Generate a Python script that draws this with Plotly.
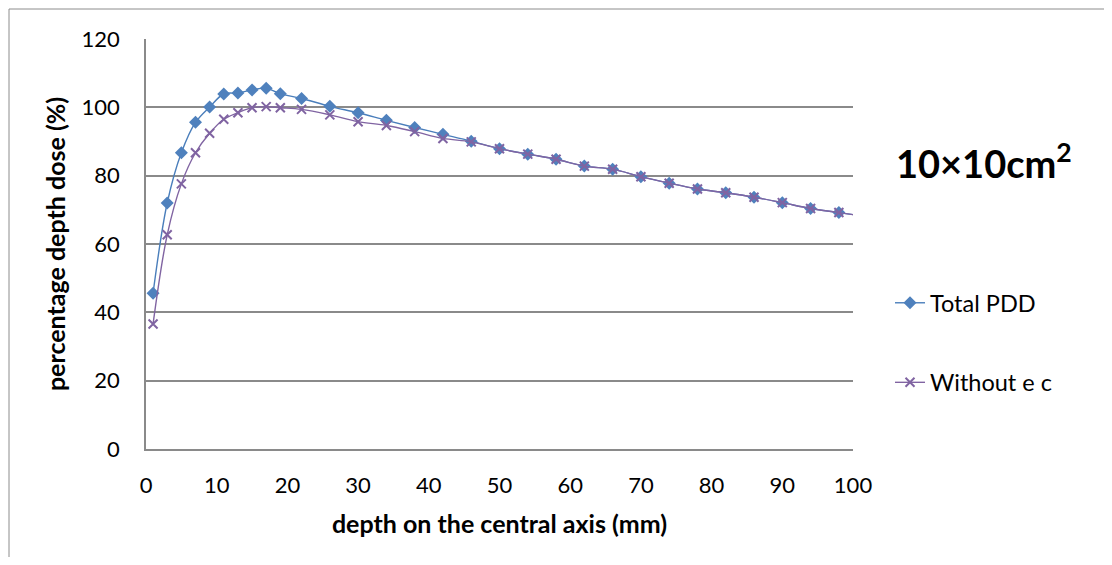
import plotly.graph_objects as go

depth_mm = [1, 3, 5, 7, 9, 11, 13, 15, 17, 19, 22, 26, 30, 34, 38, 42, 46, 50,
            54, 58, 62, 66, 70, 74, 78, 82, 86, 90, 94, 98, 102]
total_pdd = [45.6, 72.0, 86.7, 95.6, 100.1, 103.9, 104.2, 105.1, 105.6, 104.0,
             102.6, 100.3, 98.4, 96.2, 94.1, 92.1, 90.1, 87.9, 86.3, 84.8,
             82.8, 81.9, 79.7, 77.8, 76.1, 75.0, 73.7, 72.1, 70.4, 69.2, 68.0]
without_ec = [36.6, 62.7, 77.6, 86.7, 92.4, 96.5, 98.4, 99.9, 100.2, 99.9,
              99.4, 97.8, 95.8, 94.7, 92.9, 90.9, 89.9, 87.9, 86.3, 84.8,
              82.8, 81.9, 79.7, 77.8, 76.1, 75.0, 73.7, 72.1, 70.4, 69.2, 68.0]
series_names = ["Total PDD", "Without e c"]
x_ticks = [0, 10, 20, 30, 40, 50, 60, 70, 80, 90, 100]
y_ticks = [0, 20, 40, 60, 80, 100, 120]

FONT = "Lato, 'Open Sans', sans-serif"
GRID = "#8a8a8a"

fig = go.Figure()
fig.add_trace(go.Scatter(
    x=depth_mm, y=total_pdd, name=series_names[0], mode="lines+markers",
    line=dict(color="#4A7EBB", width=1.4, shape="spline", smoothing=1),
    marker=dict(symbol="diamond", size=10, color="#4F81BD"),
    legendgroup="a"))
fig.add_trace(go.Scatter(
    x=depth_mm, y=without_ec, name=series_names[1], mode="lines+markers",
    line=dict(color="#8064A2", width=1.4, shape="spline", smoothing=1),
    marker=dict(symbol="x-thin", size=9, color="#8064A2",
                line=dict(color="#8064A2", width=2)),
    legendgroup="b"))

# page offset of the figure (body margin)
OFF = 8
# plot area in page pixels
PL, PT, PR, PB = 146, 39, 853, 449
pw, ph = PR - PL, PB - PT
W, H = 1096, 549
ml, mt = PL - OFF, PT - OFF
mr, mb = W - ml - pw, H - mt - ph


def px(xp):
    return (xp - PL) / pw


def py(yp):
    return (PB - yp) / ph


fig.update_layout(
    width=W, height=H,
    margin=dict(l=ml, r=mr, t=mt, b=mb, pad=0),
    paper_bgcolor="white", plot_bgcolor="white",
    font=dict(family=FONT, color="black"),
    showlegend=True,
    legend=dict(x=px(890), y=py(281), xanchor="left",
                yanchor="top", font=dict(size=23.5, family=FONT),
                tracegroupgap=46, bgcolor="rgba(0,0,0,0)"),
    xaxis=dict(range=[0, 100], tickvals=x_ticks, showgrid=False,
               showline=True, linecolor=GRID, linewidth=1.5, ticks="",
               tickfont=dict(size=22), ticklabelstandoff=16,
               zeroline=False,
               title=dict(text="<b>depth on the central axis (mm)</b>",
                          font=dict(size=25), standoff=18)),
    yaxis=dict(range=[0, 120], tickvals=y_ticks, showgrid=True,
               gridcolor=GRID, gridwidth=1.5, showline=True,
               linecolor=GRID, linewidth=1.5, ticks="",
               tickfont=dict(size=22), ticklabelstandoff=20,
               zeroline=False,
               title=dict(text="<b>percentage depth dose (%)</b>",
                          font=dict(size=25), standoff=9)),
    annotations=[dict(text="<b>10×10cm<sup>2</sup></b>", x=px(984),
                      y=py(161), xref="paper", yref="paper",
                      xanchor="center", yanchor="middle",
                      showarrow=False, font=dict(size=38, family=FONT))],
    shapes=[dict(type="rect", xref="paper", yref="paper",
                 x0=px(9), x1=px(1140), y0=py(590), y1=py(9),
                 line=dict(color="#8c8c8c", width=1), layer="below")],
)

fig.write_html("out.html")
